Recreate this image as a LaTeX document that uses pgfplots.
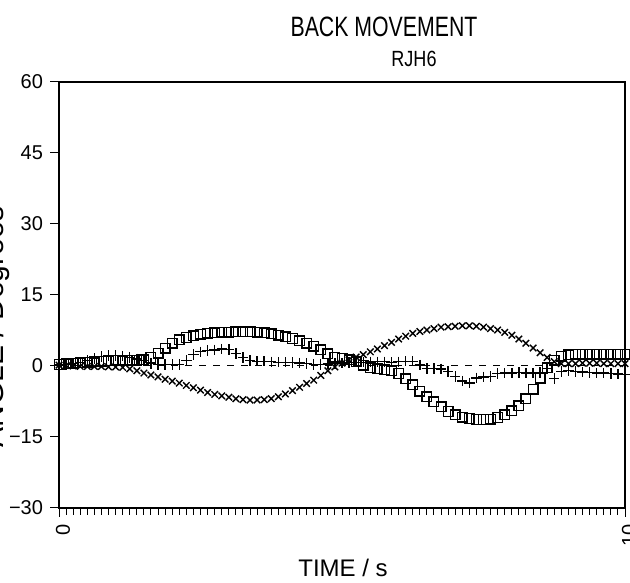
\documentclass[border=0pt]{standalone}
\usepackage{fontspec}
\setmainfont{Liberation Sans}
\usepackage{pgfplots}
\pgfplotsset{compat=1.18}
\usepackage{pgfplotstable}

\pgfplotstableread{
t sq pl cr
0 0.3 0.2 0.2
0.125 0.5 0.3 0.1
0.25 0.6 0.5 0.0
0.375 0.7 0.8 -0.1
0.5 0.8 1.2 -0.1
0.625 0.9 1.6 -0.1
0.75 1.0 2.0 -0.1
0.875 1.1 2.2 -0.2
1.0 1.2 2.2 -0.2
1.125 1.2 2.1 -0.3
1.25 1.2 1.8 -0.6
1.375 1.2 1.5 -1.0
1.5 1.3 1.2 -1.5
1.625 1.8 0.5 -1.9
1.75 2.7 0.3 -2.3
1.875 3.8 0.3 -2.8
2.0 4.8 0.3 -3.2
2.125 5.5 0.3 -3.6
2.25 6.0 1.2 -4.1
2.375 6.4 2.4 -4.6
2.5 6.7 3.0 -5.1
2.625 6.9 3.3 -5.6
2.75 7.0 3.4 -6.0
2.875 7.1 3.6 -6.3
3.0 7.1 3.5 -6.6
3.125 7.2 2.6 -6.9
3.25 7.2 1.8 -7.1
3.375 7.2 1.2 -7.2
3.5 7.1 1.0 -7.2
3.625 7.0 1.0 -7.1
3.75 6.8 0.9 -6.9
3.875 6.5 0.8 -6.5
4.0 6.2 0.8 -5.9
4.125 5.8 0.7 -5.2
4.25 5.3 0.6 -4.5
4.375 4.8 0.5 -3.7
4.5 4.2 0.3 -3.0
4.625 3.4 0.3 -2.0
4.75 2.6 0.4 -1.0
4.875 1.9 0.5 -0.2
5.0 1.6 0.6 0.6
5.125 1.3 0.7 1.3
5.25 0.9 0.8 1.9
5.375 0.2 0.8 2.4
5.5 -0.4 0.9 3.0
5.625 -0.6 0.9 3.6
5.75 -0.8 0.9 4.3
5.875 -1.0 0.8 5.0
6.0 -1.6 0.9 5.7
6.125 -2.7 1.0 6.3
6.25 -4.0 1.0 6.9
6.375 -5.3 0.2 7.3
6.5 -6.5 -0.5 7.6
6.625 -7.6 -0.5 7.9
6.75 -8.6 -0.6 8.2
6.875 -9.6 -1.2 8.3
7.0 -10.3 -2.2 8.4
7.125 -10.8 -3.2 8.5
7.25 -11.1 -3.6 8.5
7.375 -11.3 -2.5 8.4
7.5 -11.3 -2.3 8.2
7.625 -11.2 -2.2 7.9
7.75 -10.9 -1.6 7.6
7.875 -10.3 -1.5 7.1
8.0 -9.5 -1.5 6.5
8.125 -8.4 -1.4 5.7
8.25 -6.9 -1.5 4.8
8.375 -4.9 -1.5 3.8
8.5 -2.6 -1.4 2.8
8.625 -0.4 -0.5 1.8
8.75 1.2 -2.6 0.9
8.875 2.1 -1.2 0.5
9.0 2.4 -1.0 0.5
9.125 2.5 -1.2 0.5
9.25 2.5 -1.3 0.6
9.375 2.5 -1.4 0.6
9.5 2.5 -1.5 0.6
9.625 2.5 -1.5 0.5
9.75 2.5 -1.6 0.5
9.875 2.5 -1.7 0.5
10 2.5 -1.8 0.5
}\data

\begin{document}
\begin{tikzpicture}
\useasboundingbox (0,0) rectangle (315pt,291pt);
\begin{axis}[
  at={(29.5pt,37pt)}, anchor=south west,
  width=283pt, height=213pt, scale only axis,
  xmin=0, xmax=10, ymin=-30, ymax=60,
  axis line style={line width=0.6pt},
  xtick={0,10}, xticklabels={0,10},
  minor x tick num=79,
  ytick={-30,-15,0,15,30,45,60},
  yticklabels={−30,−15,0,15,30,45,60},
  xtick pos=left, ytick pos=left,
  tick align=outside,
  major tick length=4.5pt, minor tick length=3.5pt,
  every tick/.style={black, line width=0.5pt},
  x tick label style={rotate=90, anchor=east, xshift=0pt, yshift=-2pt, font=\fontsize{10}{11}\selectfont},
  y tick label style={font=\fontsize{10}{11}\selectfont},
  every axis plot/.append style={black, line width=0.7pt},
  clip=false,
]
\addplot [dashed, dash pattern=on 3.5pt off 3.5pt, line width=0.5pt] coordinates {(0,0) (10,0)};
\addplot [only marks, mark=square, mark size=2.4pt] table [x=t, y=sq] {\data};
\addplot [only marks, mark=+, mark size=2.6pt] table [x=t, y=pl] {\data};
\addplot [only marks, mark=x, mark size=2.3pt] table [x=t, y=cr] {\data};
\end{axis}
\node[anchor=base, xscale=0.76, font=\fontsize{14}{16}\selectfont] at (192pt,272.5pt) {BACK MOVEMENT};
\node[anchor=base, xscale=0.82, font=\fontsize{11}{13}\selectfont] at (207pt,257.5pt) {RJH6};
\node[anchor=base, font=\fontsize{12}{14}\selectfont] at (171.5pt,2.5pt) {TIME / s};
\node[anchor=base, rotate=90, font=\fontsize{15}{17}\selectfont] at (1.5pt,127.5pt) {ANGLE / Degrees};
\end{tikzpicture}
\end{document}
